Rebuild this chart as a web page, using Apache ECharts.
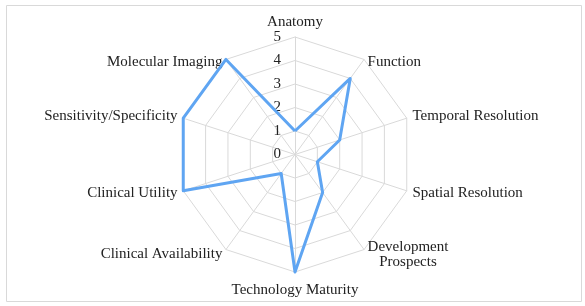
<!DOCTYPE html>
<html>
<head>
<meta charset="utf-8">
<script src="https://cdn.jsdelivr.net/npm/echarts@6/dist/echarts.min.js"></script>
<style>
  html, body { margin: 0; padding: 0; background: #fff; }
  #chart { width: 585px; height: 306px; }
</style>
</head>
<body>
<div id="chart"></div>
<script>
// indicators in clockwise order from the top
const categories = [
  'Anatomy', 'Function', 'Temporal Resolution', 'Spatial Resolution',
  'Development\nProspects', 'Technology Maturity', 'Clinical Availability',
  'Clinical Utility', 'Sensitivity/Specificity', 'Molecular Imaging'
];
const scores = [1, 4, 2, 1, 2, 5, 1, 5, 5, 5];
const maxScore = 5;

// echarts lays the radar out counter-clockwise, so flip everything after the first
const order = [0].concat(categories.map((c, i) => i).slice(1).reverse());

const font = '"Liberation Serif", "Times New Roman", serif';
const chart = echarts.init(document.getElementById('chart'), null, { renderer: 'canvas' });

//两行名称居中；上方斜向的名称往下挪半行；底部名称稍往下
const nameFormatter = (name) => {
  const i = categories.indexOf(name);
  const c = Math.cos((i * 2 * Math.PI) / categories.length);
  if (name.indexOf('\n') >= 0) {
    return name.split('\n').map((s) => '{c|' + s + '}').join('\n');
  }
  if (c > 0.5 && c < 0.99) return ' \n' + name;
  if (c < -0.99) return '{b|' + name + '}';
  return name;
};

chart.setOption({
  animation: false,
  graphic: [{
    type: 'rect',
    shape: { x: 6.5, y: 5.5, width: 575, height: 296 },
    style: { fill: 'none', stroke: '#d9d9d9', lineWidth: 1 }
  }],
  radar: {
    center: [295, 154.5],
    radius: 117.5,
    startAngle: 90,
    splitNumber: 5,
    shape: 'polygon',
    nameGap: 6,
    axisName: {
      color: '#222', fontFamily: font, fontSize: 15,
      formatter: nameFormatter,
      rich: {
        c: { align: 'center', color: '#222', fontFamily: font, fontSize: 15 },
        b: { color: '#222', fontFamily: font, fontSize: 15, lineHeight: 25 }
      }
    },
    axisLine: { lineStyle: { color: '#d9d9d9', width: 1 } },
    splitLine: { lineStyle: { color: '#d9d9d9', width: 1 } },
    splitArea: { show: false },
    axisTick: { show: false },
    axisLabel: { show: false },
    indicator: order.map((i, k) => {
      const ind = { name: categories[i], min: 0, max: maxScore };
      if (k === 0) {
        ind.axisLabel = {
          show: true, color: '#222', fontFamily: font, fontSize: 15,
          margin: 14, showMinLabel: true, showMaxLabel: true
        };
      }
      return ind;
    })
  },
  series: [{
    type: 'radar',
    symbol: 'none',
    lineStyle: { color: '#5fa5f2', width: 3 },
    data: [{ value: order.map(i => scores[i]) }]
  }]
});
</script>
</body>
</html>
